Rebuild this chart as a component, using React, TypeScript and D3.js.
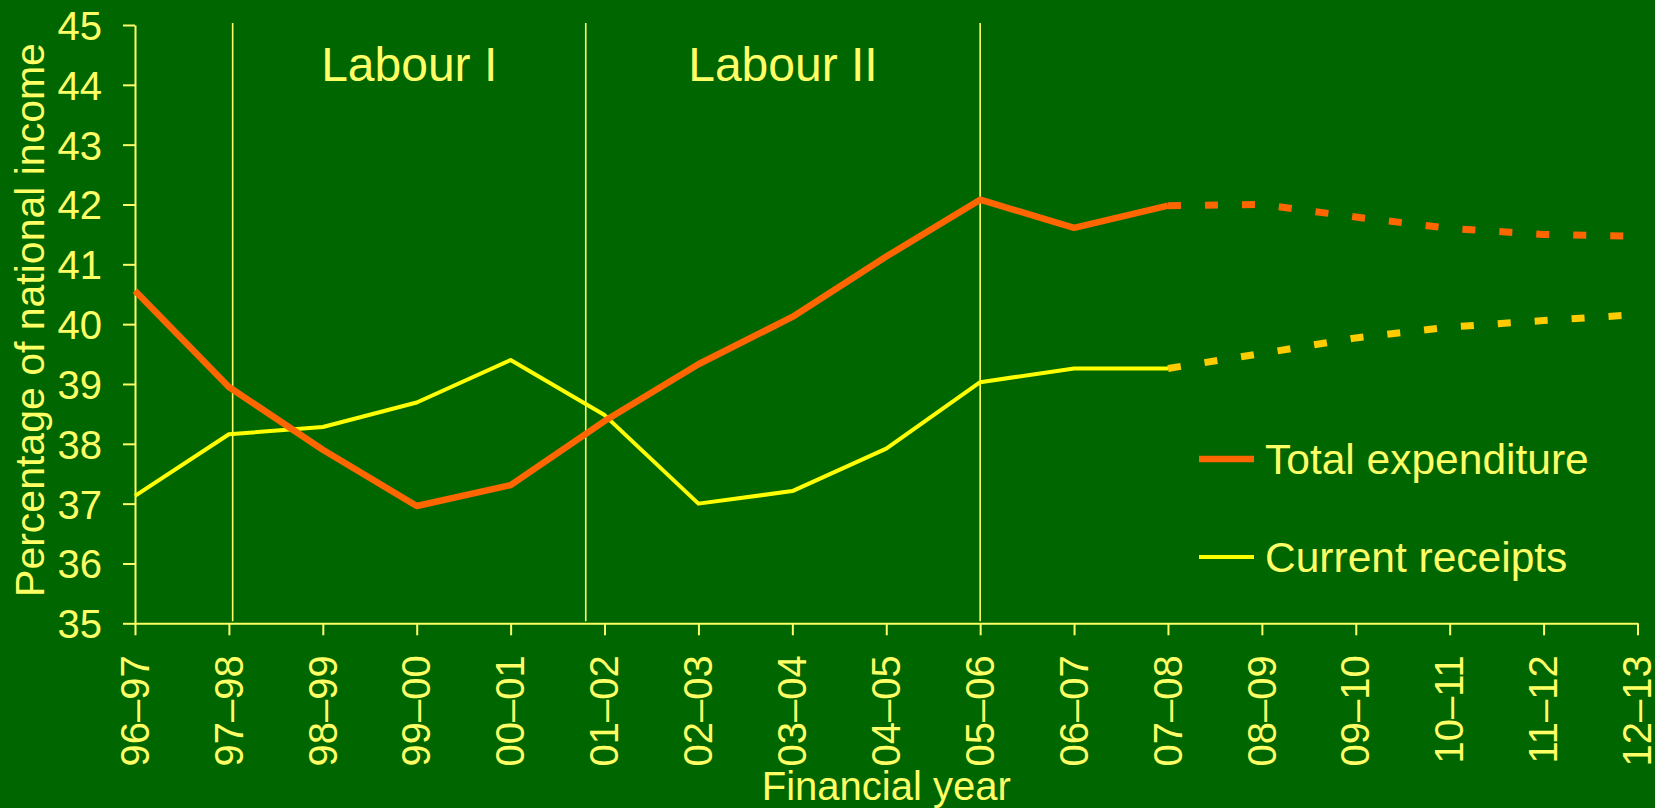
import React, { useEffect, useRef } from 'react';
import * as d3 from 'd3';

// financial years on the x axis
const years = [
  '96–97', '97–98', '98–99', '99–00', '00–01', '01–02', '02–03', '03–04', '04–05',
  '05–06', '06–07', '07–08', '08–09', '09–10', '10–11', '11–12', '12–13',
];

// outturn (solid) up to 07-08, projections (dashed) from 07-08
const expenditureActual = [40.56, 38.95, 37.9, 36.96, 37.31, 38.38, 39.33, 40.12, 41.13, 42.08, 41.61, 41.98];
const expenditureProjected = [41.98, 42.0, 41.79, 41.6, 41.5, 41.47];
const receiptsActual = [37.13, 38.16, 38.28, 38.69, 39.4, 38.48, 37.0, 37.21, 37.92, 39.03, 39.26, 39.26];
const receiptsProjected = [39.26, 39.51, 39.77, 39.95, 40.06, 40.16];

const yTicks = [35, 36, 37, 38, 39, 40, 41, 42, 43, 44, 45];

// election dates as positions along the year axis
const elections = [1.04, 4.8, 9.0];
const periods = ['Labour I', 'Labour II'];

const legendItems = ['Total expenditure', 'Current receipts'];

const W = 1655;
const H = 808;
const FONT = "'Liberation Sans', Arial, sans-serif";
const TEXT = '#ffff66';
const BG = '#006600';

export default function App() {
  const svgRef = useRef<SVGSVGElement>(null);

  useEffect(() => {
    if (!svgRef.current) return;
    const svg = d3.select(svgRef.current);
    svg.selectAll('*').remove();

    const left = 135, right = 1637.5, top = 25, bottom = 623.3;

    const x = d3.scalePoint<string>().domain(years).range([left, right]);
    const xi = d3.scaleLinear().domain([0, years.length - 1]).range([left, right]);
    const y = d3.scaleLinear().domain([35, 45]).range([bottom, top]);

    svg.append('rect').attr('width', W).attr('height', H).attr('fill', BG);

    // election lines
    svg.append('g')
      .selectAll('line')
      .data(elections)
      .enter()
      .append('line')
      .attr('x1', d => xi(d))
      .attr('x2', d => xi(d))
      .attr('y1', 23)
      .attr('y2', bottom - 2)
      .attr('stroke', TEXT)
      .attr('stroke-width', 1.6);

    svg.append('g')
      .selectAll('text')
      .data(periods)
      .enter()
      .append('text')
      .attr('x', (d, i) => (xi(elections[i]) + xi(elections[i + 1])) / 2)
      .attr('y', 81)
      .attr('text-anchor', 'middle')
      .style('font-family', FONT)
      .style('font-size', '48px')
      .attr('fill', TEXT)
      .text(d => d);

    // y axis
    const gy = svg.append('g')
      .attr('transform', `translate(${left},0)`)
      .call(d3.axisLeft(y).tickValues(yTicks).tickFormat(d3.format('d')).tickSize(12).tickSizeOuter(0).tickPadding(21));
    gy.select('.domain').attr('stroke', TEXT).attr('stroke-width', 2);
    gy.selectAll('.tick line').attr('stroke', TEXT).attr('stroke-width', 2);
    gy.selectAll('.tick text')
      .attr('fill', TEXT)
      .attr('dy', '0.36em')
      .style('font-family', FONT)
      .style('font-size', '40px');

    // x axis
    const gx = svg.append('g')
      .attr('transform', `translate(0,${bottom})`)
      .call(d3.axisBottom(x).tickSize(12).tickSizeOuter(0));
    gx.select('.domain').attr('stroke', TEXT).attr('stroke-width', 2);
    gx.selectAll('.tick line').attr('stroke', TEXT).attr('stroke-width', 2);
    gx.selectAll('.tick text')
      .attr('fill', TEXT)
      .attr('transform', 'rotate(-90)')
      .attr('x', -32)
      .attr('y', 0)
      .attr('dy', '0.33em')
      .attr('text-anchor', 'end')
      .style('font-family', FONT)
      .style('font-size', '40px');

    // axis titles
    svg.append('text')
      .attr('transform', `translate(44,320) rotate(-90)`)
      .attr('text-anchor', 'middle')
      .style('font-family', FONT)
      .style('font-size', '41px')
      .attr('fill', TEXT)
      .text('Percentage of national income');

    svg.append('text')
      .attr('x', (left + right) / 2)
      .attr('y', 800)
      .attr('text-anchor', 'middle')
      .style('font-family', FONT)
      .style('font-size', '40px')
      .attr('fill', TEXT)
      .text('Financial year');

    // series
    const line = d3.line<[string, number]>().x(d => x(d[0]) || 0).y(d => y(d[1]));
    const actualYears = years.slice(0, expenditureActual.length);
    const projYears = years.slice(expenditureActual.length - 1);

    const series = [
      { data: d3.zip(actualYears, receiptsActual), color: '#ffff00', width: 4, dash: null },
      { data: d3.zip(projYears, receiptsProjected), color: '#ffcc00', width: 7, dash: '13,24' },
      { data: d3.zip(actualYears, expenditureActual), color: '#ff6600', width: 6.5, dash: null },
      { data: d3.zip(projYears, expenditureProjected), color: '#ff6600', width: 7, dash: '13,24' },
    ];

    svg.append('g')
      .selectAll('path')
      .data(series)
      .enter()
      .append('path')
      .attr('d', d => line(d.data as [string, number][]))
      .attr('fill', 'none')
      .attr('stroke', d => d.color)
      .attr('stroke-width', d => d.width)
      .attr('stroke-dasharray', d => d.dash)
      .attr('stroke-linejoin', 'round');

    // legend
    const legendColors = ['#ff6600', '#ffff00'];
    const legendWidths = [6.5, 4];
    const lg = svg.append('g')
      .selectAll('g')
      .data(legendItems)
      .enter()
      .append('g')
      .attr('transform', (d, i) => `translate(1199,${459 + i * 98})`);
    lg.append('line')
      .attr('x1', 0)
      .attr('x2', 55)
      .attr('stroke', (d, i) => legendColors[i])
      .attr('stroke-width', (d, i) => legendWidths[i]);
    lg.append('text')
      .attr('x', 66)
      .attr('y', 15)
      .style('font-family', FONT)
      .style('font-size', '42.5px')
      .attr('fill', TEXT)
      .text(d => d);
  }, []);

  return (
    <svg
      ref={svgRef}
      width={W}
      height={H}
      style={{ position: 'absolute', left: 0, top: 0, display: 'block' }}
    />
  );
}
